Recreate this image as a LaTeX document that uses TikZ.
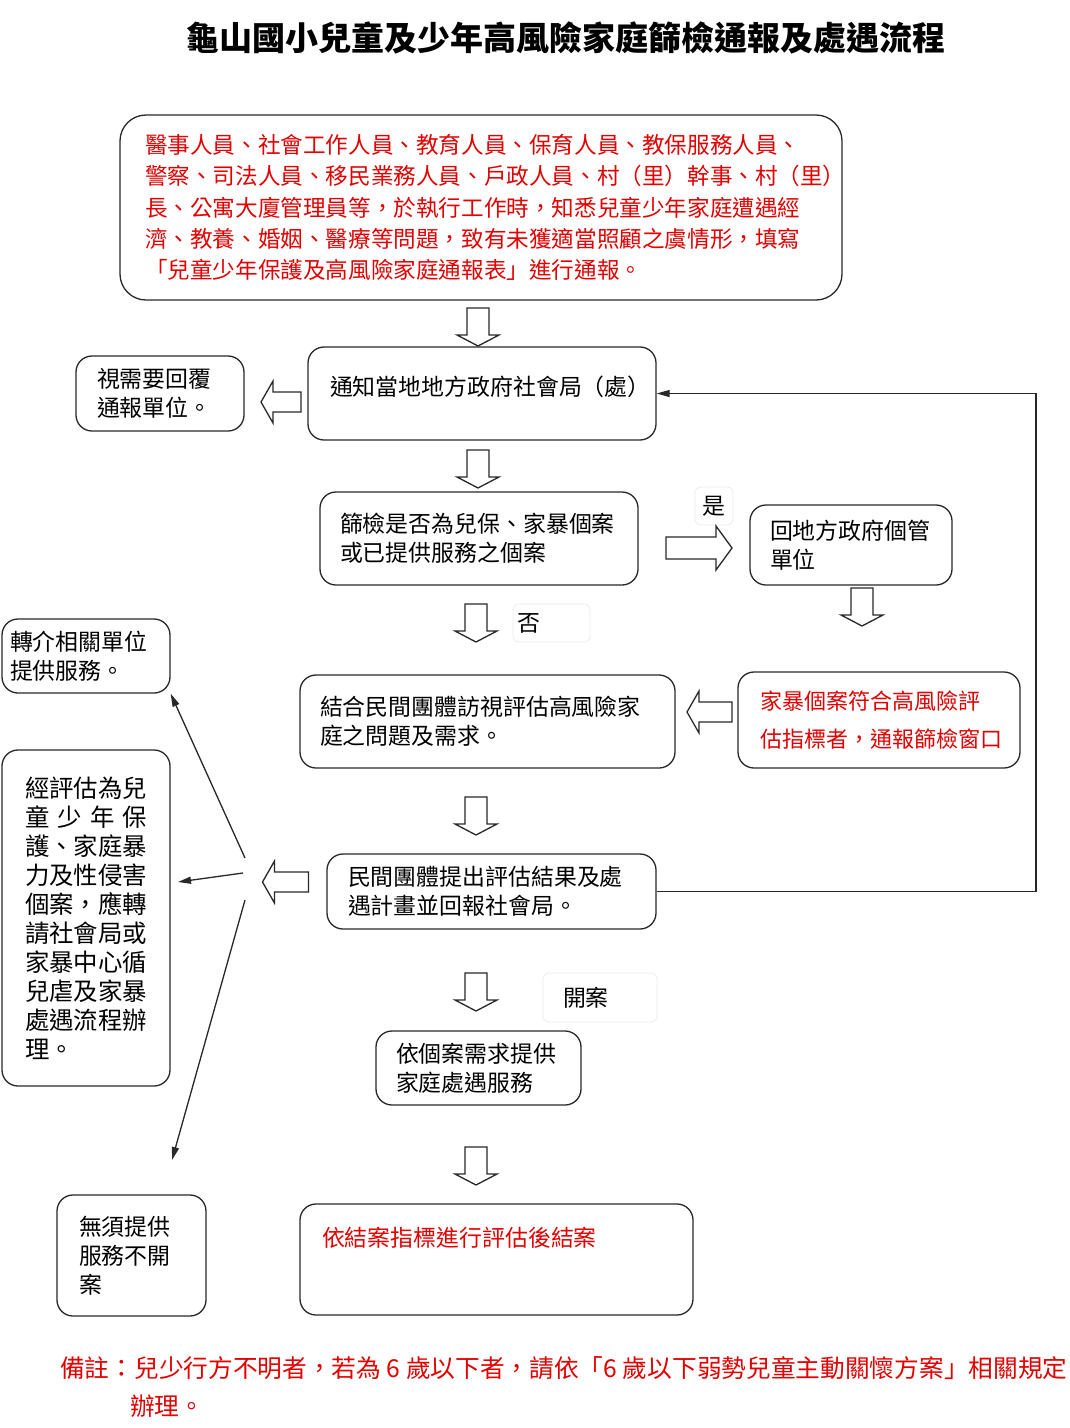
\documentclass[tikz,border=0pt]{standalone}
\usepackage{fontspec}
\setmainfont{Noto Sans CJK TC}
\usetikzlibrary{arrows.meta, calc}

\definecolor{rptred}{RGB}{226,0,0}
\definecolor{edgegray}{RGB}{40,40,40}

\tikzset{
  box/.style={draw=edgegray, line width=1.3pt, rounded corners=16pt, inner sep=0pt, align=left, font=\fontsize{22.9}{29}\selectfont},
  tag/.style={draw=gray!15, line width=0.8pt, rounded corners=6pt, inner sep=0pt, align=left, font=\fontsize{22.9}{29}\selectfont},
  blk/.style={draw=edgegray, line width=1.3pt, fill=white},
  thinarrow/.style={draw=edgegray, line width=1.3pt, -{Triangle[length=13pt,width=7pt]}},
  pics/downblk/.style={code={\draw[blk] (-11,-19) -- (11,-19) -- (11,8) -- (21,8) -- (0,19) -- (-21,8) -- (-11,8) -- cycle;}},
  pics/rightblk/.style={code={\draw[blk] (-33,-11) -- (17,-11) -- (17,-22) -- (33,0) -- (17,22) -- (17,11) -- (-33,11) -- cycle;}},
  pics/leftblk/.style={code={\draw[blk] ({#1/2},-10) -- ({-#1/2+12},-10) -- ({-#1/2+12},-21) -- ({-#1/2},0) -- ({-#1/2+12},21) -- ({-#1/2+12},10) -- ({#1/2},10) -- cycle;}},
}

\begin{document}
\begin{tikzpicture}[x=1pt, y=-1pt]
  \useasboundingbox[fill=white] (0,0) rectangle (1070,1428);

  % title
  \node[font=\fontsize{33}{38}\selectfont\bfseries] (title) at (566,38) {龜山國小兒童及少年高風險家庭篩檢通報及處遇流程};

  % main column
  \node[box, rounded corners=26pt, text=rptred, font=\fontsize{22.6}{31.25}\selectfont, minimum width=722pt, minimum height=185pt, text width=672pt] (report) at (481,207.5)
    {醫事人員、社會工作人員、教育人員、保育人員、教保服務人員、\\
     警察、司法人員、移民業務人員、戶政人員、村（里）幹事、村（里）\\
     長、公寓大廈管理員等，於執行工作時，知悉兒童少年家庭遭遇經\\
     濟、教養、婚姻、醫療等問題，致有未獲適當照顧之虞情形，填寫\\
     「兒童少年保護及高風險家庭通報表」進行通報。};
  \node[box, minimum width=348pt, minimum height=93pt, text width=304pt] (notify) at (482,393.5) {通知當地地方政府社會局（處）\\[-14pt]\mbox{}};
  \node[box, minimum width=168pt, minimum height=75pt, text width=126pt] (reply) at (160,393.5) {視需要回覆\\通報單位。};
  \node[box, minimum width=318pt, minimum height=93pt, text width=278pt] (screen) at (479,538.5) {篩檢是否為兒保、家暴個案\\或已提供服務之個案};
  \node[box, minimum width=202pt, minimum height=80pt, text width=162pt] (return) at (851,545) {回地方政府個管\\單位};
  \node[box, text=rptred, font=\fontsize{22}{38}\selectfont, minimum width=282pt, minimum height=96pt, text width=238pt] (dv) at (879,720) {家暴個案符合高風險評\\估指標者，通報篩檢窗口};
  \node[box, minimum width=375pt, minimum height=93pt, text width=335pt] (visit) at (487.5,721.5) {結合民間團體訪視評估高風險家\\庭之問題及需求。};
  \node[box, minimum width=329pt, minimum height=75pt, text width=287pt] (result) at (491.5,891.5) {民間團體提出評估結果及處\\遇計畫並回報社會局。};
  \node[box, minimum width=205pt, minimum height=74pt, text width=165pt] (service) at (478.5,1068) {依個案需求提供\\家庭處遇服務};
  \node[box, text=rptred, minimum width=393pt, minimum height=111pt, text width=349pt] (close) at (496.5,1259.5) {依結案指標進行評估後結案\\[16pt]\mbox{}};

  % left column
  \node[box, minimum width=168pt, minimum height=74pt, text width=152pt] (referral) at (86,656) {轉介相關單位\\提供服務。};
  \node[box, font=\fontsize{24.4}{29}\selectfont, minimum width=168pt, minimum height=336pt, text width=122pt] (tall) at (86,918)
    {經評估為兒\\\makebox[122pt]{童\hfill 少\hfill 年\hfill 保}\\護、家庭暴\\力及性侵害\\個案，應轉\\請社會局或\\家暴中心循\\兒虐及家暴\\處遇流程辦\\理。};
  \node[box, minimum width=149pt, minimum height=121pt, text width=105pt] (noservice) at (131.5,1255.5) {無須提供\\服務不開\\案};

  % branch labels
  \node[tag, align=center, minimum width=38pt, minimum height=38pt] (yes) at (714,506) {是};
  \node[tag, minimum width=77pt, minimum height=38pt, text width=69pt] (no) at (551.5,623) {否};
  \node[tag, minimum width=114pt, minimum height=49pt, text width=74pt] (open) at (600,997.5) {開案};

  % hollow arrows
  \pic at (478,327) {downblk};
  \pic at (281,402) {leftblk=40};
  \pic at (478,469) {downblk};
  \pic at (699,548) {rightblk};
  \pic at (862,607) {downblk};
  \pic at (476,623) {downblk};
  \pic at (709.5,712) {leftblk=45};
  \pic at (476,816) {downblk};
  \pic at (285.5,882) {leftblk=46};
  \pic at (476,992) {downblk};
  \pic at (476,1166) {downblk};

  % fan of thin arrows
  \coordinate (fanA) at (245,858);
  \coordinate (fanB) at (243,873);
  \coordinate (fanC) at (245,900);
  \coordinate (tallTip) at (178,882);
  \coordinate (noTip) at (172,1160);
  \draw[thinarrow] (fanA) -- (referral.south east);
  \draw[thinarrow] (fanB) -- (tallTip);
  \draw[thinarrow] (fanC) -- (noTip);

  % feedback loop
  \coordinate (loop) at (1036,393.5);
  \draw[thinarrow] (result.east) -| (loop) -- (notify.east);

  % note
  \node[anchor=west, inner sep=0pt, text=rptred, font=\fontsize{24.7}{30}\selectfont] (note) at (60,1368) {備註：兒少行方不明者，若為 6 歲以下者，請依「6 歲以下弱勢兒童主動關懷方案」相關規定};
  \node[anchor=west, inner sep=0pt, text=rptred, font=\fontsize{24.7}{30}\selectfont] (note2) at (130,1406) {辦理。};
\end{tikzpicture}
\end{document}
